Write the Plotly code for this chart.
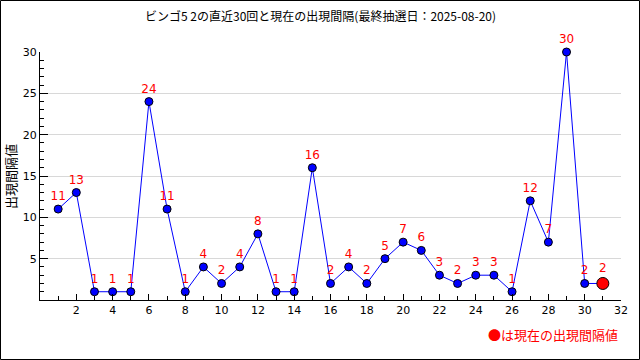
import plotly.graph_objects as go

rounds = list(range(1, 31))
intervals = [11, 13, 1, 1, 1, 24, 11, 1, 4, 2, 4, 8, 1, 1, 16, 2, 4, 2, 5, 7, 6, 3, 2, 3, 3, 1, 12, 7, 30, 2]
current_x = 31
current_val = 2
x_ticks = list(range(2, 33, 2))
y_ticks = [5, 10, 15, 20, 25, 30]

W, H = 640, 360
L, R, T, B = 40, 19, 52, 60
pw, ph = W - L - R, H - T - B

fig = go.Figure()
fig.add_trace(go.Scatter(
    x=rounds + [current_x], y=intervals + [current_val], mode="lines",
    line=dict(color="#0000FF", width=1), hoverinfo="skip", showlegend=False))
fig.add_trace(go.Scatter(
    x=rounds, y=intervals, mode="markers+text", cliponaxis=False,
    text=[str(v) for v in intervals], textposition="top center",
    textfont=dict(color="#FF0000", size=12, family="DejaVu Sans"),
    marker=dict(color="#0000FF", size=8, line=dict(color="black", width=1)),
    showlegend=False))
fig.add_trace(go.Scatter(
    x=[current_x], y=[current_val], mode="markers+text", cliponaxis=False,
    text=[str(current_val)], textposition="top center",
    textfont=dict(color="#FF0000", size=12, family="DejaVu Sans"),
    marker=dict(color="#FF0000", size=12, line=dict(color="black", width=1)),
    showlegend=False))

fig.update_layout(
    width=W, height=H, margin=dict(l=L, r=R, t=T, b=B, autoexpand=False),
    paper_bgcolor="white", plot_bgcolor="white",
    font=dict(family="DejaVu Sans", size=11, color="black"),
    xaxis=dict(range=[0, 32], tickmode="array", tickvals=x_ticks,
               ticktext=[str(v) for v in x_ticks], automargin=False,
               ticks="inside", ticklen=6, tickcolor="black",
               minor=dict(dtick=1, ticks="inside", ticklen=4, tickcolor="black"),
               showline=True, linecolor="black", linewidth=1,
               showgrid=False, zeroline=False, mirror=False),
    yaxis=dict(range=[0, 30], tickmode="array", tickvals=y_ticks,
               ticktext=[str(v) for v in y_ticks], automargin=False,
               ticks="inside", ticklen=8, tickcolor="black",
               minor=dict(dtick=1, ticks="inside", ticklen=4, tickcolor="black", showgrid=False),
               showline=True, linecolor="black", linewidth=1,
               showgrid=True, gridcolor="#D8D8D8", gridwidth=1, zeroline=False),
)

def px_x(p):
    return (p - L) / pw

def px_y(p):
    return (T + ph - p) / ph

fig.add_annotation(
    text="ビンゴ5 2の直近30回と現在の出現間隔(最終抽選日：2025-08-20)",
    xref="paper", yref="paper", x=px_x(320), y=px_y(15),
    xanchor="center", yanchor="middle", showarrow=False,
    font=dict(family="Noto Sans CJK JP", size=12, color="black"))

fig.add_annotation(
    text="出現間隔値", xref="paper", yref="paper", x=px_x(10), y=px_y(177),
    xanchor="center", yanchor="middle", textangle=-90, showarrow=False,
    font=dict(family="Noto Sans CJK JP", size=13, color="black"))

fig.add_annotation(
    text="●は現在の出現間隔値", xref="paper", yref="paper",
    x=px_x(620), y=px_y(334), xanchor="right", yanchor="middle",
    showarrow=False, font=dict(family="Noto Sans CJK JP", size=13, color="#FF0000"))

fig.add_shape(type="rect", xref="paper", yref="paper",
              x0=px_x(0.5), x1=px_x(639.5), y0=px_y(359.5), y1=px_y(0.5),
              line=dict(color="black", width=1), fillcolor="rgba(0,0,0,0)", layer="above")

fig.write_html("out.html", config={"displayModeBar": False},
               post_script="document.body.style.margin='0';document.body.style.overflow='hidden';")
